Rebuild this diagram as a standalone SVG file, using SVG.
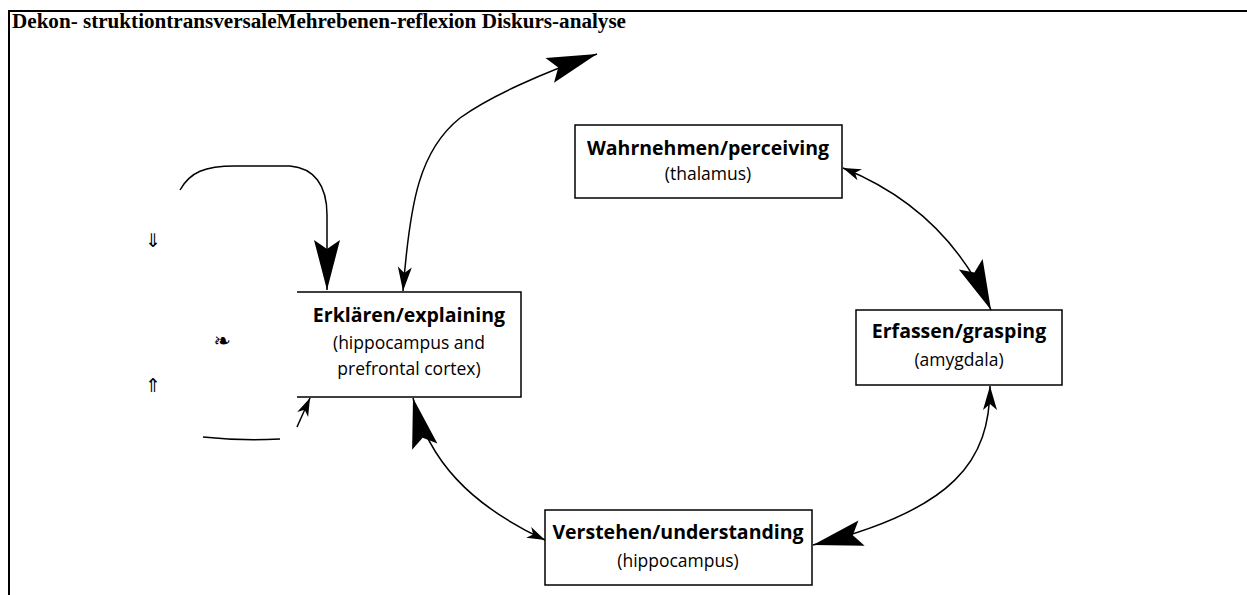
<svg xmlns="http://www.w3.org/2000/svg" width="1247" height="595" viewBox="0 0 1247 595">
<style>
.box{fill:#fff;stroke:#000;stroke-width:1.5}
.t{font-family:"Open Sans","Noto Sans",sans-serif;font-size:19.5px;font-weight:bold;text-anchor:middle;fill:#000}
.s{font-family:"Open Sans","Noto Sans",sans-serif;font-size:17.5px;text-anchor:middle;fill:#000}
.c{fill:none;stroke:#000;stroke-width:1.5}
.frame{stroke:#000;stroke-width:2;fill:none}
.sym{font-family:"Noto Sans CJK JP","DejaVu Sans",sans-serif;font-weight:300;fill:#000;font-size:19px;text-anchor:middle}
</style>
<defs>
<marker id="big" viewBox="-52 -15 54 30" refX="0" refY="0" markerWidth="54" markerHeight="30" markerUnits="userSpaceOnUse" orient="auto-start-reverse" overflow="visible">
<path d="M0,0 L-50,-13 L-41,0 L-50,13 Z" fill="#000"/>
</marker>
<marker id="med" viewBox="-26 -8 28 16" refX="0" refY="0" markerWidth="28" markerHeight="16" markerUnits="userSpaceOnUse" orient="auto-start-reverse" overflow="visible">
<path d="M0,0 L-24,-7 L-18,0 L-24,7 Z" fill="#000"/>
</marker>
<marker id="sm" viewBox="-20 -7 22 14" refX="0" refY="0" markerWidth="22" markerHeight="14" markerUnits="userSpaceOnUse" orient="auto-start-reverse" overflow="visible">
<path d="M0,0 L-18,-6 L-13,0 L-18,6 Z" fill="#000"/>
</marker>
</defs>
<g id="frame">
<line class="frame" x1="8" y1="11" x2="1247" y2="11"/>
<line class="frame" x1="9" y1="10" x2="9" y2="595"/>
<text x="12" y="28" font-family="Liberation Serif, serif" font-weight="bold" font-size="20" textLength="614" lengthAdjust="spacingAndGlyphs">Dekon-  struktiontransversaleMehrebenen-reflexion Diskurs-analyse</text>
</g>
<g id="connectors">
<path class="c" d="M180,190 C190,172 205,166 235,166 L290,166 C314,168 327,185 327,215 L327,290" marker-end="url(#big)"/>
<path class="c" d="M403,291 C410,200 420,150 460,118 C490,96 545,72 597,54" marker-start="url(#med)" marker-end="url(#big)"/>
<path class="c" d="M843,168 C910,195 960,240 991,310" marker-start="url(#sm)" marker-end="url(#big)"/>
<path class="c" d="M990,386 C990,460 955,510 813,545" marker-start="url(#med)" marker-end="url(#big)"/>
<path class="c" d="M413,398 C428,460 470,505 545,540" marker-start="url(#big)" marker-end="url(#sm)"/>
<path class="c" d="M203,437 Q240,441 280,439"/>
<path class="c" d="M297,427 L310,398" marker-end="url(#sm)"/>
</g>
<g id="symbols">
<text class="sym" x="153" y="247">⇓</text>
<text class="sym" x="153" y="392">⇑</text>
<text x="222" y="348" font-family="DejaVu Sans, sans-serif" font-size="21" text-anchor="middle" font-weight="bold">❧</text>
</g>
<g id="wahrnehmen">
<rect class="box" x="575" y="125" width="267" height="73"/>
<text class="t" x="708" y="155">Wahrnehmen/perceiving</text>
<text class="s" x="708" y="180">(thalamus)</text>
</g>
<g id="erklaeren">
<path d="M297,292 H521 V397 H297" fill="#fff" stroke="#000" stroke-width="1.5"/>
<text class="t" x="409" y="322">Erklären/explaining</text>
<text class="s" x="409" y="349">(hippocampus and</text>
<text class="s" x="409" y="375">prefrontal cortex)</text>
</g>
<g id="erfassen">
<rect class="box" x="856" y="310" width="206" height="75"/>
<text class="t" x="959" y="338">Erfassen/grasping</text>
<text class="s" x="959" y="366">(amygdala)</text>
</g>
<g id="verstehen">
<rect class="box" x="545" y="510" width="267" height="75"/>
<text class="t" x="678" y="539">Verstehen/understanding</text>
<text class="s" x="678" y="567">(hippocampus)</text>
</g>
</svg>
